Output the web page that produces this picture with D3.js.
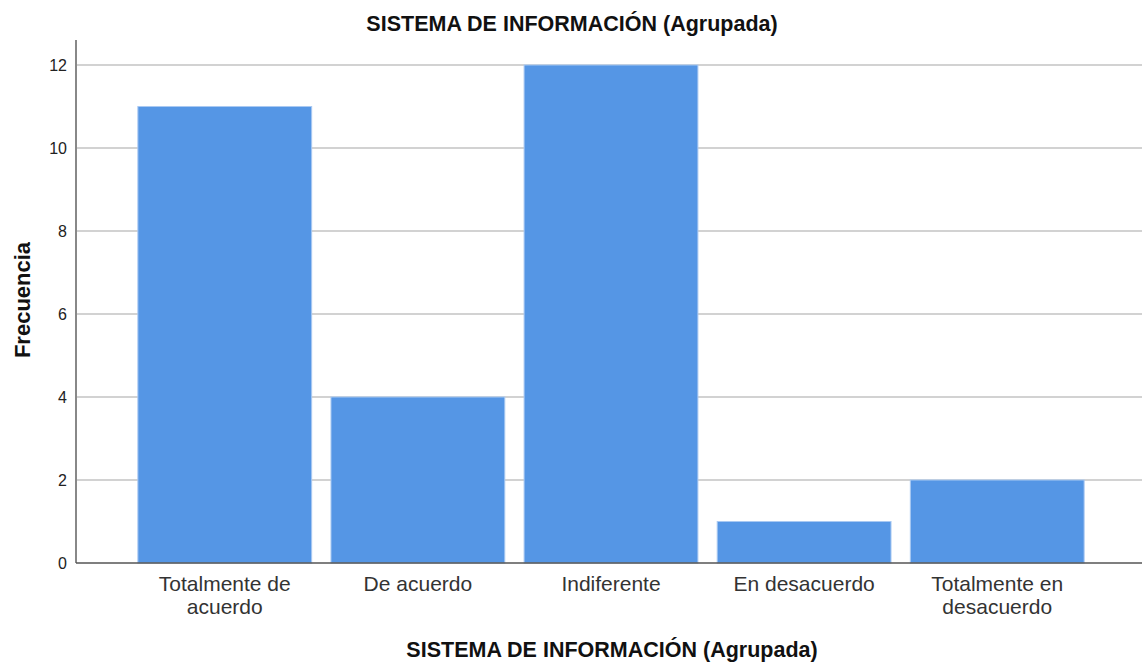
<!DOCTYPE html>
<html>
<head>
	<meta charset="utf-8">
	<title> sistema de informacion </title>
	<script src="https://d3js.org/d3.v7.min.js"></script>
	<style>
		body { margin: 0; background: #fff; }
		text { font-family: "Liberation Sans", Arial, sans-serif; }
	</style>
</head>
<body>
	<svg width="1142" height="663"></svg>
	<script type="text/javascript">
		let categories = [["Totalmente de", "acuerdo"], ["De acuerdo"], ["Indiferente"], ["En desacuerdo"], ["Totalmente en", "desacuerdo"]];
		let values = [11, 4, 12, 1, 2];
		let yTicks = [0, 2, 4, 6, 8, 10, 12];
		let titleText = "SISTEMA DE INFORMACIÓN (Agrupada)";

		let svg = d3.select("svg");
		const plotLeft = 76, plotRight = 1142, plotTop = 40, plotBottom = 563;

		let x = d3.scaleBand()
			.domain(d3.range(categories.length))
			.range([plotLeft + 2, plotRight + 2])
			.paddingInner(0.1)
			.paddingOuter(0.31);
		let y = d3.scaleLinear().domain([0, 12]).range([plotBottom, 65]);

		// gridlines
		svg.append("g").selectAll("line").data(yTicks.filter(d => d > 0)).join("line")
			.attr("x1", plotLeft).attr("x2", plotRight)
			.attr("y1", d => y(d)).attr("y2", d => y(d))
			.attr("stroke", "#d2d2d2").attr("stroke-width", 2);

		// bars
		svg.append("g").selectAll("rect").data(values).join("rect")
			.attr("x", (d, i) => x(i))
			.attr("y", d => y(d))
			.attr("width", x.bandwidth())
			.attr("height", d => plotBottom - y(d))
			.attr("fill", "#5596e5")
			.attr("stroke", "#a9c9f2")
			.attr("stroke-width", 1);

		// y axis
		let yAxis = d3.axisLeft(y).tickValues(yTicks).tickSize(0).tickPadding(9);
		let ga = svg.append("g").attr("transform", "translate(" + plotLeft + ",0)").call(yAxis);
		ga.select(".domain").remove();
		ga.selectAll("text").attr("font-size", 16).attr("fill", "#222")
			.style("font-family", "'Liberation Sans', Arial, sans-serif");
		svg.append("line").attr("x1", plotLeft).attr("x2", plotLeft).attr("y1", plotTop).attr("y2", plotBottom)
			.attr("stroke", "#888").attr("stroke-width", 2);
		svg.append("line").attr("x1", plotLeft).attr("x2", plotRight).attr("y1", plotBottom).attr("y2", plotBottom)
			.attr("stroke", "#555").attr("stroke-width", 1.5);

		// x labels
		let lbl = svg.append("g").selectAll("text").data(categories).join("text")
			.attr("text-anchor", "middle")
			.attr("font-size", 21)
			.attr("fill", "#333")
			.attr("x", (d, i) => x(i) + x.bandwidth() / 2)
			.attr("y", 591);
		lbl.selectAll("tspan").data(d => d).join("tspan")
			.attr("x", function() { return this.parentNode.getAttribute("x"); })
			.attr("dy", (d, i) => i == 0 ? 0 : 22.5)
			.text(d => d);

		// titles
		svg.append("text").attr("x", 572).attr("y", 31).attr("text-anchor", "middle")
			.attr("font-size", 21.5).attr("font-weight", "bold").attr("fill", "#111").text(titleText);
		svg.append("text").attr("x", 612).attr("y", 657).attr("text-anchor", "middle")
			.attr("font-size", 21.5).attr("font-weight", "bold").attr("fill", "#111").text(titleText);
		svg.append("text").attr("transform", "translate(30,300) rotate(-90)").attr("text-anchor", "middle")
			.attr("font-size", 22).attr("font-weight", "bold").attr("fill", "#111").text("Frecuencia");
	</script>
</body>
</html>
